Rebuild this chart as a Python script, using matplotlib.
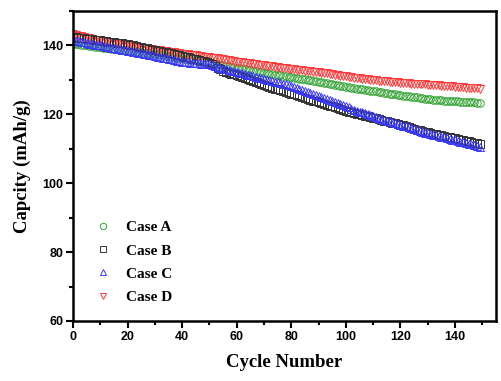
import matplotlib
matplotlib.use("Agg")
import matplotlib.pyplot as plt
import numpy as np
from matplotlib.ticker import MultipleLocator

plt.rcParams['font.family'] = ['Liberation Sans', 'DejaVu Sans']

# cycle index
cycles = np.arange(0, 150)

case_a = [
    140.5, 140.4, 140.3, 140.2, 140.1, 140.0, 139.9, 139.8, 139.7, 139.6,
    139.5, 139.4, 139.3, 139.2, 139.1, 139.0, 138.9, 138.8, 138.7, 138.6,
    138.5, 138.4, 138.3, 138.2, 138.1, 138.0, 137.9, 137.8, 137.7, 137.6,
    137.5, 137.4, 137.3, 137.1, 137.0, 136.9, 136.8, 136.6, 136.5, 136.4,
    136.3, 136.2, 136.0, 135.9, 135.8, 135.7, 135.5, 135.4, 135.3, 135.1,
    135.0, 134.9, 134.7, 134.6, 134.4, 134.3, 134.1, 134.0, 133.8, 133.7,
    133.5, 133.4, 133.2, 133.1, 132.9, 132.8, 132.6, 132.5, 132.3, 132.2,
    132.0, 131.9, 131.8, 131.6, 131.5, 131.4, 131.3, 131.1, 131.0, 130.9,
    130.8, 130.7, 130.5, 130.4, 130.3, 130.2, 130.0, 129.9, 129.8, 129.6,
    129.5, 129.4, 129.2, 129.1, 128.9, 128.8, 128.6, 128.5, 128.3, 128.2,
    128.0, 127.9, 127.8, 127.6, 127.5, 127.4, 127.3, 127.2, 127.0, 126.9,
    126.8, 126.7, 126.6, 126.4, 126.3, 126.2, 126.0, 125.9, 125.8, 125.6,
    125.5, 125.4, 125.3, 125.2, 125.1, 125.0, 124.9, 124.8, 124.7, 124.6,
    124.5, 124.4, 124.3, 124.3, 124.2, 124.1, 124.0, 124.0, 123.9, 123.9,
    123.8, 123.8, 123.7, 123.7, 123.6, 123.6, 123.5, 123.5, 123.4, 123.4,
]

case_b = [
    142.6, 142.5, 142.3, 142.2, 142.1, 142.0, 141.9, 141.8, 141.7, 141.6,
    141.5, 141.4, 141.2, 141.1, 141.0, 140.9, 140.8, 140.7, 140.6, 140.5,
    140.4, 140.2, 140.0, 139.9, 139.7, 139.5, 139.3, 139.2, 139.0, 138.8,
    138.7, 138.5, 138.3, 138.2, 138.0, 137.8, 137.7, 137.5, 137.3, 137.2,
    137.0, 136.8, 136.6, 136.4, 136.2, 136.0, 135.8, 135.6, 135.4, 135.2,
    135.0, 134.5, 134.0, 133.5, 133.1, 132.7, 132.4, 132.1, 131.8, 131.6,
    131.4, 131.1, 130.8, 130.5, 130.2, 129.9, 129.6, 129.3, 129.0, 128.7,
    128.5, 128.2, 128.0, 127.8, 127.5, 127.3, 127.0, 126.8, 126.5, 126.3,
    126.0, 125.8, 125.5, 125.3, 125.0, 124.8, 124.5, 124.3, 124.0, 123.8,
    123.5, 123.3, 123.0, 122.8, 122.5, 122.3, 122.0, 121.8, 121.5, 121.3,
    121.0, 120.8, 120.6, 120.4, 120.2, 120.0, 119.8, 119.6, 119.4, 119.2,
    119.0, 118.8, 118.6, 118.4, 118.2, 118.0, 117.8, 117.6, 117.4, 117.2,
    117.0, 116.8, 116.5, 116.3, 116.0, 115.8, 115.6, 115.4, 115.2, 115.0,
    114.8, 114.6, 114.4, 114.3, 114.1, 113.9, 113.7, 113.5, 113.3, 113.2,
    113.0, 112.8, 112.7, 112.5, 112.3, 112.2, 112.0, 111.8, 111.6, 111.4,
]

case_c = [
    141.6, 141.4, 141.2, 141.0, 140.9, 140.7, 140.5, 140.4, 140.2, 140.1,
    140.0, 139.8, 139.7, 139.5, 139.4, 139.2, 139.1, 138.9, 138.8, 138.6,
    138.5, 138.3, 138.2, 138.0, 137.9, 137.7, 137.6, 137.4, 137.3, 137.1,
    137.0, 136.8, 136.6, 136.5, 136.3, 136.1, 136.0, 135.8, 135.6, 135.4,
    135.3, 135.2, 135.1, 135.0, 134.9, 134.8, 134.8, 134.7, 134.6, 134.5,
    134.5, 134.3, 134.1, 133.8, 133.6, 133.3, 133.1, 132.9, 132.7, 132.5,
    132.3, 132.1, 131.9, 131.7, 131.5, 131.3, 131.1, 130.9, 130.7, 130.5,
    130.3, 130.1, 129.9, 129.7, 129.5, 129.3, 129.1, 128.9, 128.7, 128.5,
    128.3, 128.0, 127.7, 127.4, 127.1, 126.8, 126.5, 126.2, 125.9, 125.6,
    125.3, 125.0, 124.7, 124.4, 124.1, 123.8, 123.5, 123.2, 122.9, 122.6,
    122.3, 122.0, 121.7, 121.4, 121.1, 120.8, 120.6, 120.3, 120.0, 119.8,
    119.5, 119.2, 119.0, 118.7, 118.5, 118.2, 118.0, 117.7, 117.5, 117.2,
    117.0, 116.7, 116.5, 116.2, 116.0, 115.7, 115.5, 115.2, 115.0, 114.7,
    114.5, 114.3, 114.1, 113.9, 113.7, 113.5, 113.3, 113.1, 112.9, 112.7,
    112.5, 112.3, 112.1, 111.9, 111.7, 111.5, 111.3, 111.1, 110.8, 110.5,
]

case_d = [
    143.3, 143.1, 142.9, 142.7, 142.5, 142.3, 142.1, 141.9, 141.7, 141.6,
    141.5, 141.3, 141.2, 141.0, 140.9, 140.8, 140.6, 140.5, 140.3, 140.2,
    140.0, 139.9, 139.8, 139.7, 139.6, 139.4, 139.3, 139.2, 139.0, 138.9,
    138.8, 138.7, 138.6, 138.5, 138.4, 138.2, 138.1, 138.0, 137.8, 137.7,
    137.6, 137.5, 137.4, 137.3, 137.2, 137.1, 137.0, 136.9, 136.8, 136.7,
    136.6, 136.5, 136.4, 136.3, 136.1, 136.0, 135.9, 135.7, 135.6, 135.4,
    135.3, 135.2, 135.1, 135.0, 134.9, 134.8, 134.7, 134.5, 134.4, 134.3,
    134.2, 134.1, 134.0, 133.9, 133.8, 133.7, 133.6, 133.5, 133.4, 133.3,
    133.2, 133.1, 133.0, 132.9, 132.8, 132.7, 132.6, 132.5, 132.4, 132.3,
    132.2, 132.1, 132.0, 131.9, 131.7, 131.6, 131.5, 131.4, 131.2, 131.1,
    131.0, 130.9, 130.8, 130.7, 130.6, 130.5, 130.4, 130.3, 130.2, 130.1,
    130.0, 129.9, 129.8, 129.8, 129.7, 129.6, 129.5, 129.4, 129.3, 129.3,
    129.2, 129.1, 129.1, 129.0, 128.9, 128.9, 128.8, 128.8, 128.7, 128.7,
    128.6, 128.5, 128.5, 128.4, 128.4, 128.3, 128.3, 128.2, 128.2, 128.1,
    128.0, 128.0, 127.9, 127.9, 127.8, 127.8, 127.7, 127.7, 127.6, 127.5,
]

labels = ['Case A', 'Case B', 'Case C', 'Case D']
markers = ['o', 's', '^', 'v']
colors = ['#33a333', '#333333', '#3a3aff', '#ff3a3a']

fig = plt.figure(figsize=(5.02, 3.81), dpi=100)
ax = fig.add_axes([0.1454, 0.1575, 0.8426, 0.8135])

# draw order: A first, then D, then B and C on top
order = [0, 3, 1, 2]
series = [case_a, case_b, case_c, case_d]
handles = {}
for i in order:
    h, = ax.plot(cycles, series[i], linestyle='none', marker=markers[i],
                 markersize=5.4, markerfacecolor='none',
                 markeredgecolor=colors[i], markeredgewidth=0.7,
                 label=labels[i])
    handles[i] = h

leg = ax.legend([handles[i] for i in range(4)], labels, loc='upper left',
                bbox_to_anchor=(0.016, 0.368), frameon=False,
                markerscale=0.85, handlelength=1.2, handletextpad=0.9,
                labelspacing=0.62, prop={'family': 'Liberation Serif',
                                         'weight': 'bold', 'size': 11})

ax.set_xlim(0, 155)
ax.set_ylim(60, 150)
ax.xaxis.set_major_locator(MultipleLocator(20))
ax.xaxis.set_minor_locator(MultipleLocator(10))
ax.yaxis.set_major_locator(MultipleLocator(20))
ax.yaxis.set_minor_locator(MultipleLocator(10))
ax.set_xticks(np.arange(0, 141, 20))

ax.tick_params(which='both', direction='out', top=False, right=False,
               width=1.5)
ax.tick_params(which='major', length=5, labelsize=9, pad=2)
ax.tick_params(which='minor', length=3)
for lab in ax.get_xticklabels() + ax.get_yticklabels():
    lab.set_fontweight('bold')
for sp in ax.spines.values():
    sp.set_linewidth(1.8)

ax.set_xlabel('Cycle Number', family='Liberation Serif', weight='bold',
              fontsize=13.5, labelpad=8)
ax.set_ylabel('Capcity (mAh/g)', family='Liberation Serif', weight='bold',
              fontsize=13.5, labelpad=8)

fig.savefig('out.png', dpi=100)
